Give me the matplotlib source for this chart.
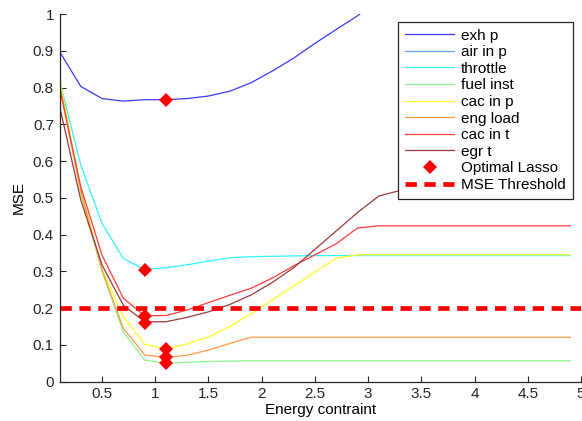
import matplotlib
matplotlib.use("Agg")
import matplotlib.pyplot as plt
import numpy as np

plt.rcParams['font.family'] = ['Liberation Sans', 'DejaVu Sans']

energy = [0.1, 0.3, 0.5, 0.7, 0.9, 1.1, 1.3, 1.5, 1.7, 1.9, 2.1, 2.3, 2.5,
          2.7, 2.9, 3.1, 3.3, 3.5, 3.7, 3.9, 4.1, 4.3, 4.5, 4.7, 4.9]

exh_p = [0.898, 0.803, 0.770, 0.763, 0.767, 0.767, 0.770, 0.777, 0.790, 0.813,
         0.845, 0.880, 0.920, 0.958, 0.995, 1.040, 1.090, 1.140, 1.190, 1.240,
         1.290, 1.340, 1.390, 1.440, 1.490]
air_in_p = [np.nan] * 25
throttle = [0.820, 0.589, 0.430, 0.335, 0.305, 0.310, 0.318, 0.328, 0.337, 0.340,
            0.341, 0.342, 0.343, 0.343, 0.343, 0.343, 0.343, 0.343, 0.343, 0.343,
            0.343, 0.343, 0.343, 0.343, 0.343]
fuel_inst = [0.810, 0.510, 0.300, 0.135, 0.059, 0.050, 0.053, 0.055, 0.056, 0.057,
             0.057, 0.057, 0.057, 0.057, 0.057, 0.057, 0.057, 0.057, 0.057, 0.057,
             0.057, 0.057, 0.057, 0.057, 0.057]
cac_in_p = [0.824, 0.525, 0.305, 0.177, 0.102, 0.089, 0.103, 0.122, 0.150, 0.185,
            0.222, 0.260, 0.298, 0.336, 0.345, 0.345, 0.345, 0.345, 0.345, 0.345,
            0.345, 0.345, 0.345, 0.345, 0.345]
eng_load = [0.812, 0.520, 0.303, 0.145, 0.073, 0.066, 0.072, 0.086, 0.104, 0.121,
            0.121, 0.121, 0.121, 0.121, 0.121, 0.121, 0.121, 0.121, 0.121, 0.121,
            0.121, 0.121, 0.121, 0.121, 0.121]
cac_in_t = [0.800, 0.530, 0.344, 0.227, 0.179, 0.180, 0.195, 0.215, 0.235, 0.254,
            0.282, 0.315, 0.345, 0.375, 0.418, 0.424, 0.424, 0.424, 0.424, 0.424,
            0.424, 0.424, 0.424, 0.424, 0.424]
egr_t = [0.750, 0.494, 0.317, 0.208, 0.163, 0.163, 0.175, 0.190, 0.210, 0.236,
         0.270, 0.310, 0.360, 0.410, 0.460, 0.505, 0.520, 0.530, 0.530, 0.530,
         0.530, 0.530, 0.530, 0.530, 0.530]

series_names = ['exh p', 'air in p', 'throttle', 'fuel inst', 'cac in p',
                'eng load', 'cac in t', 'egr t']
series_values = [exh_p, air_in_p, throttle, fuel_inst, cac_in_p, eng_load,
                 cac_in_t, egr_t]
series_colors = ['#3a3aff', '#66a6ff', '#33f2ff', '#8cf58c', '#ffff22',
                 '#ff9944', '#ff3b3b', '#9c3a3a']

opt_x = [1.1, 0.9, 0.9, 0.9, 1.1, 1.1, 1.1]
opt_y = [0.767, 0.305, 0.178, 0.160, 0.089, 0.066, 0.050]

threshold = 0.2

fig = plt.figure(figsize=(5.82, 4.21), dpi=100)
ax = fig.add_axes([59.5 / 582, 1 - 381.7 / 421, (581 - 59.5) / 582, (381.7 - 14) / 421])

for name, vals, col in zip(series_names, series_values, series_colors):
    ax.plot(energy, vals, color=col, lw=0.9, label=name)

ax.plot(opt_x, opt_y, linestyle='none', marker='D', color='red', markersize=7,
        markeredgewidth=0, label='Optimal Lasso')
ax.axhline(threshold, color='red', lw=3.4, linestyle=(0, (2.4, 1.6)),
           label='MSE Threshold')

ax.set_xlim(0.1, 5)
ax.set_ylim(0, 1)
ax.set_xticks([0.5, 1, 1.5, 2, 2.5, 3, 3.5, 4, 4.5, 5])
ax.set_xticklabels(['0.5', '1', '1.5', '2', '2.5', '3', '3.5', '4', '4.5', '5'])
ax.set_yticks(np.arange(0, 1.01, 0.1))
ax.set_yticklabels(['0', '0.1', '0.2', '0.3', '0.4', '0.5', '0.6', '0.7', '0.8', '0.9', '1'])
ax.tick_params(direction='in', length=4, width=0.8, labelsize=11, colors='#262626',
               pad=4)
for s in ['top', 'right']:
    ax.spines[s].set_visible(False)
for s in ['left', 'bottom']:
    ax.spines[s].set_color('#262626')
    ax.spines[s].set_linewidth(0.9)

ax.set_xlabel('Energy contraint', fontsize=11, labelpad=1)
ax.set_ylabel('MSE', fontsize=11, labelpad=5)

leg = ax.legend(loc='upper right', bbox_to_anchor=(572.7 / 582, 1 - 21.7 / 421),
                bbox_transform=fig.transFigure, borderaxespad=0, fontsize=11,
                handlelength=3.2, handletextpad=0.45, labelspacing=0.17,
                numpoints=1, fancybox=False, framealpha=1, borderpad=0.45)
leg.get_frame().set_edgecolor('#262626')
leg.get_frame().set_linewidth(0.9)

fig.savefig('out.png', dpi=100)
